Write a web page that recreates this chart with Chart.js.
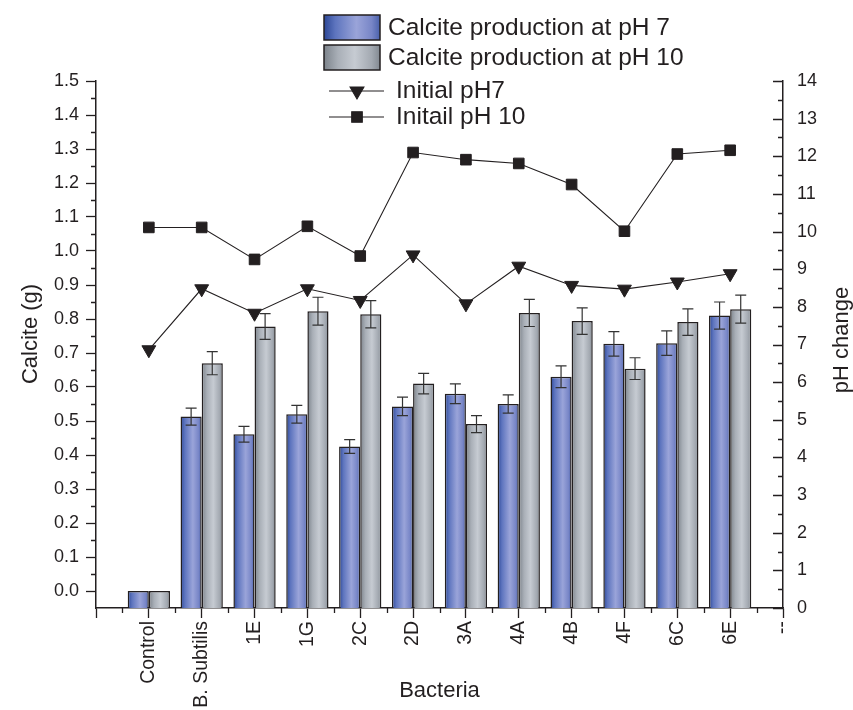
<!DOCTYPE html>
<html>
<head>
<meta charset="utf-8">
<title>Calcite production and pH change</title>
<script src="https://cdn.jsdelivr.net/npm/chart.js@4/dist/chart.umd.min.js"></script>
<style>
  html, body { margin: 0; padding: 0; background: #fff; overflow: hidden; }
  #wrap { width: 853px; height: 710px; }
</style>
</head>
<body>
<div id="wrap"><canvas id="chart" width="853" height="710"></canvas></div>
<script>
// Values
const bacteria = ['Control', 'B. Subtilis', '1E', '1G', '2C', '2D', '3A', '4A', '4B', '4F', '6C', '6E'];
const calcitePh7 = [0, 0.513, 0.461, 0.520, 0.425, 0.543, 0.580, 0.550, 0.630, 0.727, 0.729, 0.810];
const calcitePh7Err = [0, 0.025, 0.023, 0.026, 0.020, 0.027, 0.029, 0.027, 0.032, 0.036, 0.036, 0.040];
const calcitePh10 = [0, 0.670, 0.778, 0.823, 0.814, 0.610, 0.491, 0.818, 0.794, 0.654, 0.791, 0.829];
const calcitePh10Err = [0, 0.034, 0.038, 0.041, 0.040, 0.030, 0.025, 0.040, 0.039, 0.032, 0.039, 0.041];
const initialPh7 = [6.86, 8.48, 7.83, 8.48, 8.17, 9.38, 8.08, 9.08, 8.57, 8.47, 8.66, 8.88];
const initialPh10 = [10.11, 10.11, 9.26, 10.14, 9.35, 12.10, 11.91, 11.81, 11.25, 10.01, 12.06, 12.16];

// axis ends: an empty slot on the left, '--' on the right edge
const xLabels = ['', ...bacteria, '--'];
const CALCITE_MIN = -0.05;
const CALCITE_MAX = 1.5;
const PH_MIN = 0;
const PH_MAX = 14;

const INK = '#231f20';
const FONT = "'Liberation Sans', Arial, Helvetica, sans-serif";
const CAT_PCT = 0.8;

const BLUE_STOPS = [[0, '#2c4796'], [0.2, '#5d74be'], [0.58, '#9aa4d9'], [0.85, '#7886c7'], [1, '#4a61ab']];
const GREY_STOPS = [[0, '#7c838b'], [0.25, '#a9afb7'], [0.55, '#c6cbd2'], [0.85, '#a3a9b1'], [1, '#828991']];

const pad = arr => [null, ...arr, null];

function gradient(ctx, x0, w, stops) {
  const g = ctx.createLinearGradient(x0, 0, x0 + w, 0);
  stops.forEach(([o, c]) => g.addColorStop(o, c));
  return g;
}

// horizontal shading for each bar, side 0 = left bar of the pair, 1 = right
function barShade(stops, side) {
  return (c) => {
    const xs = c.chart.scales.x;
    if (c.type !== 'data' || !xs || !c.chart.chartArea) return stops[2][1];
    const center = xs.getPixelForValue(c.dataIndex);
    const step = xs.getPixelForValue(1) - xs.getPixelForValue(0);
    const w = step * CAT_PCT / 2;
    return gradient(c.chart.ctx, side === 0 ? center - w : center, w, stops);
  };
}

const errorBars = {
  id: 'errorBars',
  afterDatasetDraw(chart, args) {
    const ds = chart.data.datasets[args.index];
    if (!ds.errors) return;
    const ctx = chart.ctx;
    const y = chart.scales.y;
    ctx.save();
    ctx.strokeStyle = '#333';
    ctx.lineWidth = 1.2;
    args.meta.data.forEach((bar, i) => {
      const v = ds.data[i];
      const e = ds.errors[i];
      if (v == null || !e) return;
      const top = y.getPixelForValue(v + e);
      const bot = y.getPixelForValue(v - e);
      ctx.beginPath();
      ctx.moveTo(bar.x, top); ctx.lineTo(bar.x, bot);
      ctx.moveTo(bar.x - 5.5, top); ctx.lineTo(bar.x + 5.5, top);
      ctx.moveTo(bar.x - 5.5, bot); ctx.lineTo(bar.x + 5.5, bot);
      ctx.stroke();
    });
    ctx.restore();
  },
};

function verticalText(ctx, text, cx, cy) {
  ctx.save();
  ctx.translate(cx, cy);
  ctx.rotate(-Math.PI / 2);
  ctx.fillText(text, 0, 0);
  ctx.restore();
}

// minor ticks, inward ticks on the pH axis, side titles and the legend block
const decorations = {
  id: 'decorations',
  afterDraw(chart) {
    const ctx = chart.ctx;
    const {x, y, y1} = chart.scales;
    const area = chart.chartArea;
    ctx.save();
    ctx.strokeStyle = INK;
    ctx.lineWidth = 1.3;
    ctx.beginPath();
    for (let v = 0.05; v < CALCITE_MAX; v += 0.1) {
      const py = Math.round(y.getPixelForValue(v)) + 0.5;
      ctx.moveTo(area.left - 5, py); ctx.lineTo(area.left, py);
    }
    for (let v = PH_MIN; v <= PH_MAX; v += 0.5) {
      const py = Math.round(y1.getPixelForValue(v)) + 0.5;
      const len = v % 1 === 0 ? 10 : 5;
      ctx.moveTo(area.right - len, py); ctx.lineTo(area.right, py);
    }
    for (let i = 0; i < xLabels.length - 1; i++) {
      const px = Math.round(x.getPixelForValue(i + 0.5)) + 0.5;
      ctx.moveTo(px, area.bottom); ctx.lineTo(px, area.bottom + 5);
    }
    ctx.stroke();

    ctx.fillStyle = INK;
    ctx.font = `22px ${FONT}`;
    ctx.textAlign = 'center';
    ctx.textBaseline = 'middle';
    verticalText(ctx, 'Calcite (g)', 31, 334);
    verticalText(ctx, 'pH change', 842, 340);

    // legend
    ctx.font = `24.5px ${FONT}`;
    ctx.textAlign = 'left';
    const ds = chart.data.datasets;
    [[BLUE_STOPS, 15, ds[0].label], [GREY_STOPS, 45, ds[1].label]].forEach(([stops, top, label]) => {
      ctx.fillStyle = gradient(ctx, 324, 56, stops);
      ctx.fillRect(324, top, 56, 25);
      ctx.strokeStyle = INK;
      ctx.lineWidth = 1.5;
      ctx.strokeRect(324, top, 56, 25);
      ctx.fillStyle = INK;
      ctx.fillText(label, 388, top + 13);
    });
    [[ds[2], 91], [ds[3], 117]].forEach(([d, ly]) => {
      ctx.strokeStyle = INK;
      ctx.lineWidth = 1.1;
      ctx.beginPath();
      ctx.moveTo(329, ly); ctx.lineTo(384, ly);
      ctx.stroke();
      ctx.fillStyle = INK;
      Chart.helpers.drawPoint(ctx, {
        pointStyle: d.pointStyle, radius: d.pointRadius, rotation: d.pointRotation || 0, borderWidth: 1,
      }, 357, ly);
      ctx.fillStyle = INK;
      ctx.fillText(d.label, 396, ly);
    });
    ctx.restore();
  },
};

const tickFont = { family: FONT, size: 18 };

new Chart(document.getElementById('chart'), {
  type: 'bar',
  data: {
    labels: xLabels,
    datasets: [
      {
        label: 'Calcite production at pH 7',
        data: pad(calcitePh7),
        errors: pad(calcitePh7Err),
        yAxisID: 'y',
        base: CALCITE_MIN,
        backgroundColor: barShade(BLUE_STOPS, 0),
        borderColor: INK,
        borderWidth: 1.5,
        categoryPercentage: CAT_PCT,
        barPercentage: 1,
        order: 3,
      },
      {
        label: 'Calcite production at pH 10',
        data: pad(calcitePh10),
        errors: pad(calcitePh10Err),
        yAxisID: 'y',
        base: CALCITE_MIN,
        backgroundColor: barShade(GREY_STOPS, 1),
        borderColor: INK,
        borderWidth: 1.5,
        categoryPercentage: CAT_PCT,
        barPercentage: 1,
        order: 3,
      },
      {
        type: 'line',
        label: 'Initial pH7',
        data: pad(initialPh7),
        yAxisID: 'y1',
        borderColor: INK,
        borderWidth: 1.1,
        backgroundColor: INK,
        pointStyle: 'triangle',
        pointRotation: 180,
        pointRadius: 8,
        pointBorderWidth: 1,
        order: 1,
      },
      {
        type: 'line',
        label: 'Initail pH 10',
        data: pad(initialPh10),
        yAxisID: 'y1',
        borderColor: INK,
        borderWidth: 1.1,
        backgroundColor: INK,
        pointStyle: 'rect',
        pointRadius: 7.5,
        pointBorderWidth: 1,
        order: 1,
      },
    ],
  },
  options: {
    responsive: false,
    animation: false,
    layout: { padding: { top: 81, left: 0, right: 0, bottom: 0 } },
    plugins: {
      legend: { display: false },
      tooltip: { enabled: false },
    },
    scales: {
      x: {
        type: 'category',
        offset: false,
        grid: { offset: false, drawOnChartArea: false, tickLength: 10, tickColor: INK, tickWidth: 1.3 },
        border: { color: INK, width: 1.5 },
        ticks: { color: INK, font: { family: FONT, size: 19.5 }, minRotation: 90, maxRotation: 90, autoSkip: false, padding: 3 },
        title: { display: true, text: 'Bacteria', color: INK, font: { family: FONT, size: 22 }, padding: { top: 0, bottom: 6 } },
        afterFit: (s) => { s.height = 102; },
      },
      y: {
        position: 'left',
        min: CALCITE_MIN,
        max: CALCITE_MAX,
        grid: { drawOnChartArea: false, tickLength: 10, tickColor: INK, tickWidth: 1.3 },
        border: { color: INK, width: 1.5 },
        ticks: {
          stepSize: 0.1,
          includeBounds: false,
          color: INK,
          font: tickFont,
          padding: 7,
          callback: (v) => (v < 0 ? '' : v.toFixed(1)),
        },
        afterFit: (s) => { s.width = 96; },
      },
      y1: {
        position: 'right',
        min: PH_MIN,
        max: PH_MAX,
        grid: { drawOnChartArea: false, drawTicks: false },
        border: { color: INK, width: 1.5 },
        ticks: { stepSize: 1, color: INK, font: tickFont, padding: 14 },
        afterFit: (s) => { s.width = 70; },
      },
    },
  },
  plugins: [errorBars, decorations],
});
</script>
</body>
</html>
